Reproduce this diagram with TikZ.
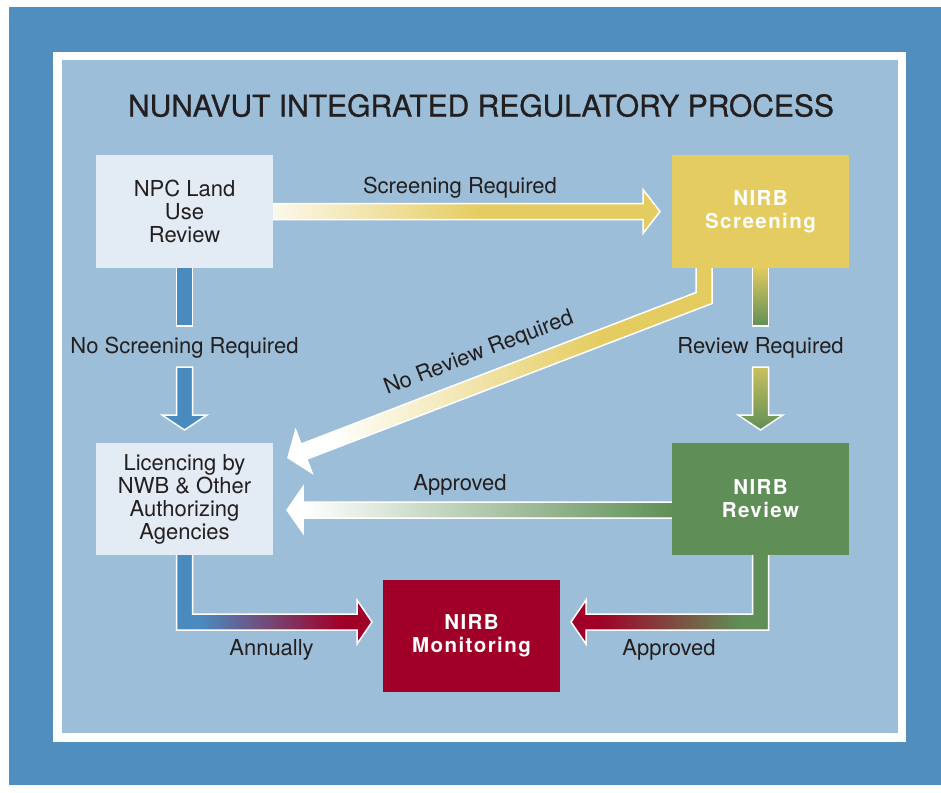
\documentclass[tikz,border=0pt]{standalone}
\usepackage{fontspec}
\setmainfont{TeX Gyre Heros}
\newfontfamily\nirbfont[LetterSpace=7]{TeX Gyre Heros}
\newfontfamily\titlefont[FakeBold=0.8]{TeX Gyre Heros}
\usetikzlibrary{calc}
\definecolor{outerblue}{HTML}{4F8EBE}
\definecolor{panel}{HTML}{9DBED8}
\definecolor{lightbox}{HTML}{E3ECF4}
\definecolor{ycol}{HTML}{E5CC60}
\definecolor{gcol}{HTML}{5F8F56}
\definecolor{rcol}{HTML}{A00028}
\definecolor{bcol}{HTML}{4A8BBF}
\definecolor{txt}{HTML}{231F20}
\pgfdeclarelayer{back}
\pgfdeclarelayer{arrows}
\pgfsetlayers{back,arrows,main}
\pgfdeclarehorizontalshading{scrshade}{100bp}{color(0bp)=(ycol!12!white); color(25bp)=(ycol!12!white); color(52bp)=(ycol); color(100bp)=(ycol)}
\pgfdeclarehorizontalshading{nrshade}{100bp}{color(0bp)=(white); color(30bp)=(white); color(62bp)=(ycol); color(100bp)=(ycol)}
\pgfdeclarehorizontalshading{annshade}{100bp}{color(0bp)=(bcol); color(31bp)=(bcol); color(67bp)=(rcol); color(100bp)=(rcol)}
\pgfdeclarehorizontalshading{apbshade}{100bp}{color(0bp)=(rcol); color(32bp)=(rcol); color(68bp)=(gcol); color(100bp)=(gcol)}
\pgfdeclarehorizontalshading{apshade}{100bp}{color(0bp)=(white); color(27bp)=(white); color(75bp)=(gcol); color(100bp)=(gcol)}
\tikzset{
  procbox/.style={rectangle, inner sep=0pt, outer sep=0pt, minimum width=177bp, minimum height=113bp, align=center, text=txt, font=\fontsize{22bp}{23bp}\selectfont},
  lightproc/.style={procbox, fill=lightbox},
  nirbproc/.style={procbox, text=white, font=\nirbfont\bfseries\fontsize{20.5bp}{23bp}\selectfont},
  lbl/.style={inner sep=0pt, outer sep=0pt, anchor=base, text=txt, font=\fontsize{22bp}{23bp}\selectfont},
  arr/.style={draw=white, line width=1.5bp, line join=miter},
}
\begin{document}
\begin{tikzpicture}[x=1bp,y=-1bp]
\useasboundingbox (0,0) rectangle (941,793);
\begin{pgfonlayer}{back}
\fill[outerblue] (9,7) rectangle (941,785);
\fill[white] (53,52) rectangle (906,742);
\fill[panel] (62,60) rectangle (898,733);
\end{pgfonlayer}

\node[inner sep=0pt, anchor=base, text=txt, font=\titlefont\fontsize{30bp}{36bp}\selectfont] (title) at (481,116.5) {NUNAVUT INTEGRATED REGULATORY PROCESS};

\node[lightproc] (npc) at (184.5,211.5) {NPC Land\\Use\\Review};
\node[nirbproc, fill=ycol] (scr) at (760.5,211.5) {NIRB\\Screening};
\node[lightproc, minimum height=112bp] (lic) at (184.5,499) {Licencing by\\NWB \& Other\\Authorizing\\Agencies};
\node[nirbproc, fill=gcol, minimum height=112bp] (rev) at (760.5,499) {NIRB\\Review};
\node[nirbproc, fill=rcol, minimum height=112bp] (mon) at (471.5,636) {NIRB\\Monitoring};

\node[lbl] (lsr) at (460,193) {Screening Required};
\node[lbl] (lnsr) at (184.5,353) {No Screening Required};
\node[lbl] (lrr) at (760.5,353) {Review Required};
\node[lbl, rotate=21] (lnrr) at (481,359) {No Review Required};
\node[lbl] (lap1) at (460,490) {Approved};
\node[lbl] (lann) at (271.5,655) {Annually};
\node[lbl] (lap2) at (669,655) {Approved};

\begin{pgfonlayer}{arrows}
% Screening Required
\coordinate (tsr) at ($(scr.west)+(-12,0)$);
\path[arr, shade, shading=scrshade] ($(npc.east)+(-2,-8)$) -- ($(tsr)+(-17,-8)$) -- ($(tsr)+(-17,-22)$) -- (tsr) -- ($(tsr)+(-17,22)$) -- ($(tsr)+(-17,8)$) -- ($(npc.east)+(-2,8)$) -- cycle;
% No Screening Required
\path[arr, fill=bcol] ($(npc.south)+(-8,-2)$) rectangle ($(lnsr.base)+(8,-27)$);
\coordinate (tns) at ($(lic.north)+(0,-13)$);
\path[arr, fill=bcol] ($(lnsr.base)+(-8,14)$) -- ($(tns)+(-8,-15)$) -- ($(tns)+(-22.5,-15)$) -- (tns) -- ($(tns)+(22.5,-15)$) -- ($(tns)+(8,-15)$) -- ($(lnsr.base)+(8,14)$) -- cycle;
% Review Required
\path[arr, top color=ycol, bottom color=gcol] ($(scr.south)+(-8,-2)$) rectangle ($(lrr.base)+(8,-27)$);
\coordinate (trr) at ($(rev.north)+(0,-13)$);
\path[arr, top color=ycol!80!gcol, bottom color=gcol] ($(lrr.base)+(-8,14)$) -- ($(trr)+(-8,-15)$) -- ($(trr)+(-22.5,-15)$) -- (trr) -- ($(trr)+(22.5,-15)$) -- ($(trr)+(8,-15)$) -- ($(lrr.base)+(8,14)$) -- cycle;
% No Review Required
\coordinate (nrt) at ($(scr.south west)+(32,0)$);
\coordinate (nrh) at ($(lic.north east)+(15,14.7)$);
\path[arr, shade, shading=nrshade] ($(nrt)+(-8,-2)$) -- ($(nrt)+(8,-2)$) -- ($(nrt)+(8,35.5)$) -- ($(nrh)+(18.8,1.4)$) -- ($(nrh)+(24.1,15.4)$) -- (nrh) -- ($(nrh)+(7.7,-27.6)$) -- ($(nrh)+(13.0,-13.6)$) -- ($(nrt)+(-8,24.5)$) -- cycle;
% Approved (review -> licencing)
\coordinate (tap) at ($(lic.east)+(14,11)$);
\path[arr, shade, shading=apshade] (tap) -- ($(tap)+(16,-23)$) -- ($(tap)+(16,-8)$) -- ($(rev.west)+(2,3)$) -- ($(rev.west)+(2,19)$) -- ($(tap)+(16,8)$) -- ($(tap)+(16,23)$) -- cycle;
% Annually
\coordinate (tan) at ($(mon.west)+(-11,-14)$);
\path[arr, shade, shading=annshade] ($(lic.south)+(-8,-2)$) |- ($(tan)+(-15,8)$) -- ($(tan)+(-15,22)$) -- (tan) -- ($(tan)+(-15,-22)$) -- ($(tan)+(-15,-8)$) -| ($(lic.south)+(8,-2)$) -- cycle;
% Approved (review -> monitoring)
\coordinate (tab) at ($(mon.east)+(11,-14)$);
\path[arr, shade, shading=apbshade] ($(rev.south)+(8,-2)$) |- ($(tab)+(15,8)$) -- ($(tab)+(15,22)$) -- (tab) -- ($(tab)+(15,-22)$) -- ($(tab)+(15,-8)$) -| ($(rev.south)+(-8,-2)$) -- cycle;
\end{pgfonlayer}
\end{tikzpicture}
\end{document}
